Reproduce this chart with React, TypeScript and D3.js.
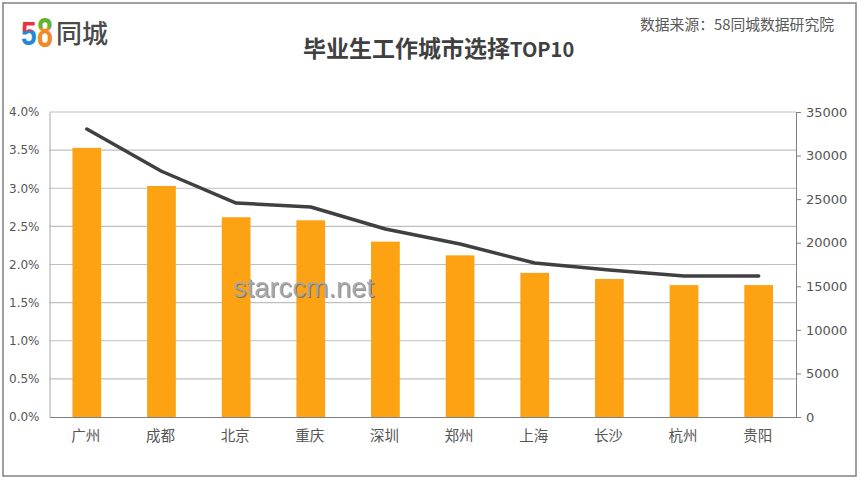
import React, { useRef, useEffect } from 'react';
import * as d3 from 'd3';

const cities = ['广州', '成都', '北京', '重庆', '深圳', '郑州', '上海', '长沙', '杭州', '贵阳'];
const shareValues = [3.53, 3.03, 2.62, 2.58, 2.30, 2.12, 1.89, 1.81, 1.73, 1.73];
const countValues = [33050, 28200, 24550, 24100, 21570, 19850, 17670, 16870, 16180, 16180];
const shareTicks = [0, 0.5, 1, 1.5, 2, 2.5, 3, 3.5, 4];
const countTicks = [0, 5000, 10000, 15000, 20000, 25000, 30000, 35000];

const cjk = '"Noto Sans CJK SC", sans-serif';
const latin = '"DejaVu Sans", sans-serif';

export default function App() {
  const chartRef = useRef<SVGSVGElement>(null);

  useEffect(() => {
    if (!chartRef.current) return;

    const svg = d3.select(chartRef.current);
    svg.selectAll('*').remove();

    const x = d3.scaleBand<string>().domain(cities).range([49.5, 796]).paddingInner(0.615).paddingOuter(0.3075);
    const yLeft = d3.scaleLinear().domain([0, 4]).range([417, 112]);
    const yRight = d3.scaleLinear().domain([0, 35000]).range([417, 112]);

    // Outer frame
    svg.append('rect')
      .attr('x', 3).attr('y', 3)
      .attr('width', 853).attr('height', 473)
      .attr('fill', '#fff')
      .attr('stroke', '#808080')
      .attr('stroke-width', 1.5);

    // Gridlines
    svg.append('g')
      .selectAll('line')
      .data(shareTicks.slice(1))
      .enter()
      .append('line')
      .attr('x1', 49.5).attr('x2', 796)
      .attr('y1', d => yLeft(d)).attr('y2', d => yLeft(d))
      .attr('stroke', '#bfbfbf')
      .attr('stroke-width', 1.2);

    // Left axis
    const leftAxis = svg.append('g')
      .attr('transform', 'translate(49.5,0)')
      .call(d3.axisLeft(yLeft).tickValues(shareTicks).tickSize(0).tickPadding(10).tickFormat(d => `${(+d).toFixed(1)}%`));
    leftAxis.select('.domain').attr('stroke', '#a6a6a6');
    leftAxis.selectAll('text')
      .attr('fill', '#555')
      .style('font-family', latin)
      .style('font-size', '12px');

    // Bars
    svg.append('g')
      .selectAll('rect')
      .data(shareValues)
      .enter()
      .append('rect')
      .attr('x', (_, i) => x(cities[i]) || 0)
      .attr('y', d => yLeft(d))
      .attr('width', x.bandwidth())
      .attr('height', d => yLeft(0) - yLeft(d))
      .attr('fill', '#fda313');

    // Category axis
    const bottomAxis = svg.append('g')
      .attr('transform', 'translate(0,417)')
      .call(d3.axisBottom(x).tickSize(0).tickPadding(14));
    bottomAxis.select('.domain').attr('stroke', '#808080');
    bottomAxis.selectAll('text')
      .attr('fill', '#555')
      .attr('dx', -1)
      .style('font-family', cjk)
      .style('font-size', '14.5px');

    // Right axis
    const rightAxis = svg.append('g')
      .attr('transform', 'translate(796,0)')
      .call(d3.axisRight(yRight).tickValues(countTicks).tickSize(5).tickPadding(5).tickFormat(d => `${d}`));
    rightAxis.selectAll('.domain, line').attr('stroke', '#808080');
    rightAxis.selectAll('text')
      .attr('fill', '#555')
      .style('font-family', latin)
      .style('font-size', '13px');

    // Line
    const line = d3.line<number>()
      .x((_, i) => (x(cities[i]) || 0) + x.bandwidth() / 2)
      .y(d => yRight(d));

    svg.append('path')
      .datum(countValues)
      .attr('fill', 'none')
      .attr('stroke', '#404040')
      .attr('stroke-width', 3.5)
      .attr('stroke-linecap', 'round')
      .attr('stroke-linejoin', 'round')
      .attr('d', line);

    // Title and source
    const title = svg.append('text')
      .attr('x', 303).attr('y', 57)
      .attr('fill', '#404040')
      .style('font-family', cjk)
      .style('font-weight', 700)
      .style('font-size', '23px');
    title.append('tspan').text('毕业生工作城市选择');
    title.append('tspan').style('font-size', '20px').text('TOP10');

    svg.append('text')
      .attr('x', 834).attr('y', 30)
      .attr('text-anchor', 'end')
      .attr('fill', '#595959')
      .style('font-family', cjk)
      .style('font-size', '14.8px')
      .text('数据来源：58同城数据研究院');

    // Logo
    const defs = svg.append('defs');
    const splitFill = (id: string, y1: number, y2: number, split: string, top: string, bottom: string) => {
      const g = defs.append('linearGradient')
        .attr('id', id)
        .attr('gradientUnits', 'userSpaceOnUse')
        .attr('x1', 0).attr('y1', y1).attr('x2', 0).attr('y2', y2);
      g.append('stop').attr('offset', split).attr('stop-color', top);
      g.append('stop').attr('offset', split).attr('stop-color', bottom);
    };
    splitFill('five', -24, 0, '42%', '#e8343f', '#1f8ad8');
    splitFill('eight', -30, 0, '36%', '#62b32e', '#f08a24');

    svg.append('text')
      .attr('transform', 'translate(21,45) scale(0.85,1)')
      .attr('fill', 'url(#five)')
      .style('font-family', '"Liberation Sans", sans-serif')
      .style('font-weight', 700)
      .style('font-size', '33px')
      .text('5');
    svg.append('text')
      .attr('transform', 'translate(37,47) scale(0.68,1)')
      .attr('fill', 'url(#eight)')
      .style('font-family', '"Liberation Sans", sans-serif')
      .style('font-weight', 700)
      .style('font-size', '42px')
      .text('8');
    svg.append('text')
      .attr('x', 56).attr('y', 43)
      .attr('fill', '#4a4a4a')
      .style('font-family', cjk)
      .style('font-weight', 500)
      .style('font-size', '26px')
      .text('同城');

    // Watermark
    svg.append('text')
      .attr('x', 233).attr('y', 297)
      .attr('fill', '#a8a8a8')
      .attr('fill-opacity', 0.9)
      .style('font-family', '"Liberation Sans", sans-serif')
      .style('font-size', '27.3px')
      .style('filter', 'drop-shadow(1px 1px 0.5px rgba(80,80,80,0.7))')
      .text('starccm.net');
  }, []);

  return (
    <div style={{ position: 'absolute', left: 0, top: 0 }}>
      <svg ref={chartRef} width={865} height={485} style={{ display: 'block' }}></svg>
    </div>
  );
}
